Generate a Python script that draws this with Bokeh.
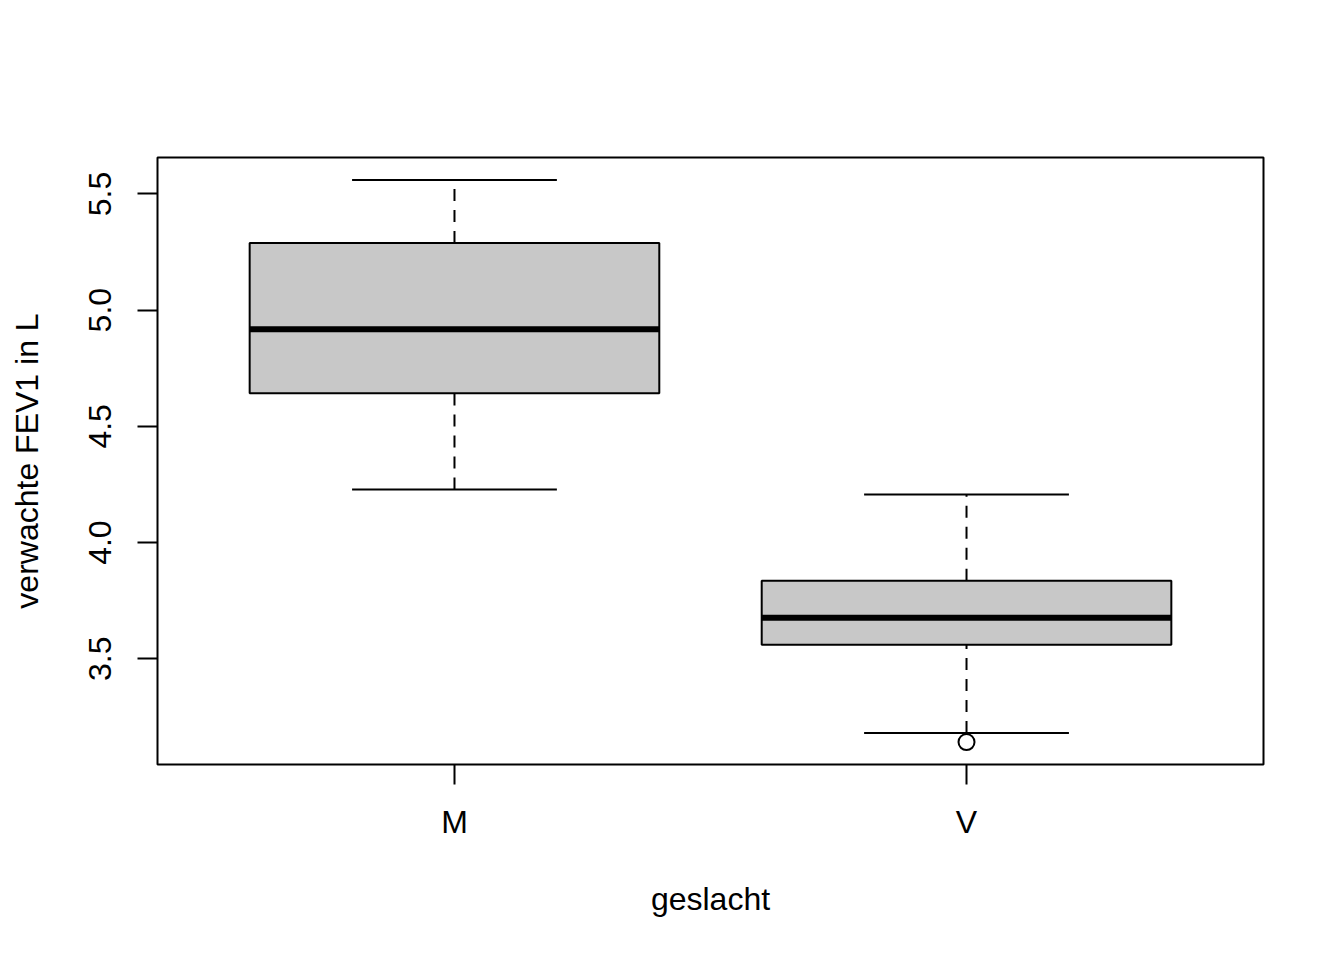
from bokeh.plotting import figure
from bokeh.models import ColumnDataSource, FixedTicker, Range1d, PrintfTickFormatter
from bokeh.embed import file_html
from bokeh.resources import INLINE

# ---- data ----
categories = ["M", "V"]
lower_whisker = [4.228, 3.181]
q1 = [4.642, 3.560]
median = [4.918, 3.677]
q3 = [5.289, 3.836]
upper_whisker = [5.560, 4.207]
outlier_category = ["V"]
outlier_value = [3.142]
y_ticks = [3.5, 4.0, 4.5, 5.0, 5.5]

x_title = "geslacht"
y_title = "verwachte FEV1 in L"

# ---- derived positions ----
pos = [i + 1 for i in range(len(categories))]
box_half = 0.4
cap_half = 0.2

src = ColumnDataSource(dict(
    x=pos,
    left=[p - box_half for p in pos],
    right=[p + box_half for p in pos],
    cl=[p - cap_half for p in pos],
    cr=[p + cap_half for p in pos],
    lw=lower_whisker, q1=q1, med=median, q3=q3, uw=upper_whisker,
))
out_src = ColumnDataSource(dict(
    x=[pos[categories.index(c)] for c in outlier_category],
    y=outlier_value,
))

all_vals = lower_whisker + upper_whisker + outlier_value
lo, hi = min(all_vals), max(all_vals)
pad = 0.04 * (hi - lo)
n = len(categories)
xpad = 0.04 * n

FONT = "Liberation Sans"
FS = "32px"

p = figure(
    width=1336, height=952,
    frame_width=1106, frame_height=607,
    min_border_left=157, min_border_top=157,
    min_border_right=73, min_border_bottom=188,
    x_range=Range1d(0.5 - xpad, n + 0.5 + xpad),
    y_range=Range1d(lo - pad, hi + pad),
    output_backend="svg", toolbar_location=None,
    background_fill_color="white", border_fill_color="white",
)
p.grid.visible = False
p.outline_line_color = "black"
p.outline_line_width = 2

# whiskers (dashed)
p.segment(x0="x", y0="q3", x1="x", y1="uw", source=src,
          line_color="black", line_width=2, line_dash="12 9")
p.segment(x0="x", y0="lw", x1="x", y1="q1", source=src,
          line_color="black", line_width=2, line_dash="12 9")
# caps
p.segment(x0="cl", y0="uw", x1="cr", y1="uw", source=src,
          line_color="black", line_width=2)
p.segment(x0="cl", y0="lw", x1="cr", y1="lw", source=src,
          line_color="black", line_width=2)
# boxes
p.quad(left="left", right="right", bottom="q1", top="q3", source=src,
       fill_color="#C8C8C8", line_color="black", line_width=2)
# medians
p.segment(x0="left", y0="med", x1="right", y1="med", source=src,
          line_color="black", line_width=6, line_cap="butt")
# outliers
p.scatter(x="x", y="y", source=out_src, marker="circle", size=16,
          fill_color=None, line_color="black", line_width=2)

# axes
xa = p.xaxis[0]
xa.ticker = FixedTicker(ticks=pos)
xa.major_label_overrides = {pp: c for pp, c in zip(pos, categories)}
ya = p.yaxis[0]
ya.ticker = FixedTicker(ticks=y_ticks)
ya.formatter = PrintfTickFormatter(format="%.1f")
ya.major_label_orientation = "vertical"

for ax in (xa, ya):
    ax.axis_line_color = None
    ax.major_tick_line_color = "black"
    ax.major_tick_line_width = 2
    ax.major_tick_out = 20
    ax.major_tick_in = 0
    ax.minor_tick_line_color = None
    ax.major_label_text_font = FONT
    ax.major_label_text_font_size = FS
    ax.major_label_text_color = "black"
    ax.axis_label_text_font = FONT
    ax.axis_label_text_font_size = FS
    ax.axis_label_text_font_style = "normal"
    ax.axis_label_text_color = "black"

xa.axis_label = x_title
ya.axis_label = y_title
xa.major_label_standoff = 19
ya.major_label_standoff = 26
xa.axis_label_standoff = 38
ya.axis_label_standoff = 42

open("out.html", "w").write(file_html(p, INLINE))
